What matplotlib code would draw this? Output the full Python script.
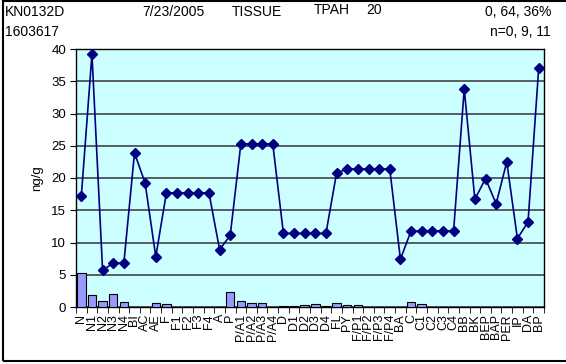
import numpy as np
import matplotlib.pyplot as plt
from matplotlib.patches import Rectangle

plt.rcParams['font.family'] = ['Liberation Sans', 'DejaVu Sans']

categories = ['N', 'N1', 'N2', 'N3', 'N4', 'BI', 'AC', 'AE', 'F', 'F1', 'F2', 'F3', 'F4',
              'A', 'P', 'P/A1', 'P/A2', 'P/A3', 'P/A4', 'D', 'D1', 'D2', 'D3', 'D4',
              'FL', 'PY', 'F/P1', 'F/P2', 'F/P3', 'F/P4', 'BA', 'C', 'C1', 'C2', 'C3', 'C4',
              'BB', 'BK', 'BEP', 'BAP', 'PER', 'IP', 'DA', 'BP']

# line series (diamonds)
line_vals = [17.2, 39.2, 5.7, 6.8, 6.8, 23.9, 19.2, 7.8, 17.7, 17.7, 17.7, 17.7, 17.7,
             8.9, 11.1, 25.3, 25.3, 25.3, 25.3, 11.4, 11.4, 11.4, 11.4, 11.4,
             20.8, 21.4, 21.4, 21.4, 21.4, 21.4, 7.4, 11.8, 11.8, 11.8, 11.8, 11.8,
             33.8, 16.7, 19.9, 16.0, 22.5, 10.6, 13.2, 37.0]

# bar series
bar_vals = [5.3, 1.85, 0.9, 2.0, 0.75, 0, 0, 0.55, 0.4, 0, 0, 0, 0,
            0, 2.3, 0.95, 0.55, 0.6, 0, 0.15, 0.2, 0.35, 0.4, 0.2,
            0.55, 0.25, 0.35, 0, 0, 0, 0, 0.75, 0.4, 0, 0, 0,
            0, 0, 0, 0, 0, 0, 0, 0]

header_top = ['KN0132D', '7/23/2005', 'TISSUE', 'TPAH', '20', '0, 64, 36%']
header_sub = ['1603617', 'n=0, 9, 11']

W, H = 566, 364
fig = plt.figure(figsize=(W / 100, H / 100), dpi=100)
ax = fig.add_axes([76 / W, 1 - 307 / H, (544 - 76) / W, (307 - 49) / H])

x = np.arange(len(categories))
ax.set_facecolor('#CCFFFF')
ax.bar(x, bar_vals, width=0.8, color='#9999FF', edgecolor='black', linewidth=0.8, zorder=3)
ax.plot(x, line_vals, color='#000080', linewidth=1.2, marker='D', markersize=5,
        markerfacecolor='#000080', markeredgecolor='#000080', zorder=4)

ax.set_xlim(-0.5, len(categories) - 0.5)
ax.set_ylim(0, 40)
ax.set_yticks(np.arange(0, 41, 5))
ax.yaxis.grid(True, color='#444444', linewidth=1.2, zorder=1)
ax.set_axisbelow(True)
ax.tick_params(axis='y', labelsize=9.5, length=4, direction='out', pad=3)

ax.set_xticks(x)
ax.set_xticklabels(categories, rotation=90, fontsize=9, va='top', ha='center')
ax.tick_params(axis='x', which='major', length=0, pad=5)
ax.set_xticks(np.arange(-0.5, len(categories), 1), minor=True)
ax.tick_params(axis='x', which='minor', length=4, direction='out')

for s in ax.spines.values():
    s.set_linewidth(1.0)
    s.set_color('black')

ax.set_ylabel('ng/g', fontsize=9.5, labelpad=6)

fs = 10
fig.text(5 / W, 1 - 12 / H, header_top[0], fontsize=fs, va='center')
fig.text(142 / W, 1 - 12 / H, header_top[1], fontsize=fs, va='center')
fig.text(232 / W, 1 - 12 / H, header_top[2], fontsize=fs, va='center')
fig.text(314 / W, 1 - 10 / H, header_top[3], fontsize=fs, va='center')
fig.text(366 / W, 1 - 10 / H, header_top[4], fontsize=fs, va='center')
fig.text(551 / W, 1 - 12 / H, header_top[5], fontsize=fs, va='center', ha='right')
fig.text(5 / W, 1 - 32 / H, header_sub[0], fontsize=fs, va='center')
fig.text(551 / W, 1 - 32 / H, header_sub[1], fontsize=fs, va='center', ha='right')

fig.patches.append(Rectangle((3 / W, 1 - 361 / H), 1.2, 361 / H - 0.5 / H,
                             transform=fig.transFigure, fill=False,
                             edgecolor='black', linewidth=1.5))

fig.savefig('out.png', dpi=100)
